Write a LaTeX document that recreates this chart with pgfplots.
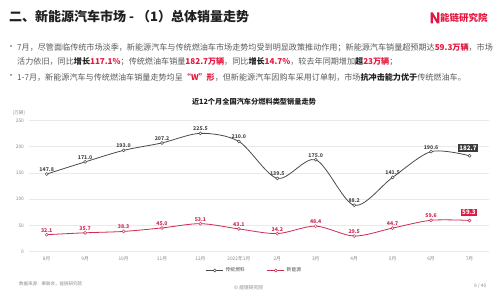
\documentclass[border=0pt]{standalone}
\usepackage{pgfplots}
\usepackage{pgfplotstable}
\pgfplotsset{compat=1.18}
\usepackage{fontspec}
\setmainfont{Noto Sans CJK SC}
\definecolor{titlec}{HTML}{1F1F1F}
\definecolor{bodyc}{HTML}{5A5A5A}
\definecolor{hl}{HTML}{E5173F}
\definecolor{darkline}{HTML}{4A4A4A}
\definecolor{redline}{HTML}{CF2A52}
\definecolor{darkbox}{HTML}{3D3D3D}
\definecolor{redbox}{HTML}{E01842}
\definecolor{gridc}{HTML}{EAEAEA}
\definecolor{tickc}{HTML}{8A8A8A}
\newcommand{\R}[1]{{\bfseries\color{hl}#1}}
\newcommand{\B}[1]{{\bfseries\color{titlec}#1}}
\pgfplotstableread{
x trad nev
0 147.8 32.1
1 171.0 35.7
2 193.0 38.3
3 207.2 45.0
4 225.5 53.1
5 210.0 43.1
6 139.5 34.2
7 175.0 48.4
8 88.2 29.5
9 141.5 44.7
10 190.6 59.6
11 182.7 59.3
}\data
\begin{document}
\begin{tikzpicture}
\path[use as bounding box, fill=white] (0pt,0pt) rectangle (500pt,299pt);
% title
\node[anchor=west, inner sep=0, text=titlec, font=\fontsize{13}{15}\selectfont\bfseries] at (9pt,282pt) {二、新能源汽车市场 - （1）总体销量走势};
% logo
\fill[hl] (430.5pt,275.5pt) -- (432.8pt,275.5pt) -- (432.8pt,282.5pt) -- (437pt,275.5pt) -- (439.3pt,275.5pt) -- (439.3pt,286.5pt) -- (437pt,286.5pt) -- (437pt,279.5pt) -- (432.8pt,286.5pt) -- (430.5pt,286.5pt) -- cycle;
\node[anchor=west, inner sep=0, text=hl, font=\fontsize{9.5}{11}\selectfont\bfseries] at (440pt,281pt) {能链研究院};
% bullets
\begin{scope}[every node/.style={anchor=west, inner sep=0, text=bodyc, font=\fontsize{8.1}{10}\selectfont}]
\node at (7pt,251pt) {•};
\node at (17pt,251pt) {7月，尽管面临传统市场淡季，新能源汽车与传统燃油车市场走势均受到明显政策推动作用；新能源汽车销量超预期达\R{59.3万辆}，市场};
\node at (17pt,237pt) {活力依旧，同比\B{增长}\R{117.1\%}；传统燃油车销量\R{182.7万辆}，同比\B{增长}\R{14.7\%}，较去年同期增加\B{超}\R{23万辆}；};
\node at (7pt,222pt) {•};
\node at (17pt,222pt) {1-7月，新能源汽车与传统燃油车销量走势均呈\R{“W”形}，但新能源汽车因购车采用订单制，市场\B{抗冲击能力优于}传统燃油车。};
\end{scope}
% chart title
\node[inner sep=0, text=titlec, font=\fontsize{7.2}{9}\selectfont\bfseries] at (254pt,197pt) {近12个月全国汽车分燃料类型销量走势};
\node[inner sep=0, text=tickc, font=\fontsize{4.6}{5}\selectfont] at (19pt,186pt) {(万辆)};
% footer
\node[anchor=west, inner sep=0, text=tickc, font=\fontsize{4.5}{5}\selectfont] at (19pt,15.5pt) {数据来源：乘联会，能链研究院};
\node[anchor=west, inner sep=0, text=tickc, font=\fontsize{4.8}{5}\selectfont] at (234pt,11pt) {© 能链研究院};
\node[anchor=west, inner sep=0, text=tickc, font=\fontsize{4.8}{5}\selectfont] at (474pt,13pt) {9 / 40};
\begin{axis}[
  at={(29.4pt,47.5pt)}, anchor=south west, scale only axis,
  width=459.3pt, height=131pt,
  xmin=-0.45, xmax=11.5, ymin=0, ymax=250,
  xtick={0,...,11},
  xticklabels={8月,9月,10月,11月,12月,2022年1月,2月,3月,4月,5月,6月,7月},
  ytick={0,50,100,150,200,250},
  ymajorgrids, grid style={gridc, line width=0.5pt},
  axis line style={draw=none},
  major tick length=0pt,
  tick label style={text=tickc, font=\fontsize{4.8}{5}\selectfont},
  /pgf/number format/assume math mode=true,
  x tick label style={yshift=-1.5pt},
  y tick label style={xshift=-2pt},
  clip=false,
  legend style={at={(0.49,-0.145)}, anchor=center, draw=none, fill=none,
    font=\fontsize{4.8}{5}\selectfont, text=darkline,
    /tikz/every even column/.append style={column sep=20pt}},
  legend columns=2,
]
\addplot[smooth, color=darkline, line width=0.8pt, mark=*, mark size=1.5pt, mark options={fill=white, line width=0.5pt}] table[x=x,y=trad]{\data};
\addlegendentry{传统燃料}
\addplot[smooth, color=redline, line width=0.8pt, mark=*, mark size=1.5pt, mark options={fill=white, line width=0.5pt}] table[x=x,y=nev]{\data};
\addlegendentry{新能源}
% labels
\addplot[forget plot, draw=none, mark=none, skip coords between index={11}{12},
  nodes near coords={\pgfmathprintnumber[fixed,fixed zerofill,precision=1]{\pgfplotspointmeta}},
  every node near coord/.append style={anchor=south, yshift=1.8pt, inner sep=0.5pt, text=darkline, font=\fontsize{5.2}{6}\selectfont\bfseries}] table[x=x,y=trad]{\data};
\addplot[forget plot, draw=none, mark=none, skip coords between index={11}{12},
  nodes near coords={\pgfmathprintnumber[fixed,fixed zerofill,precision=1]{\pgfplotspointmeta}},
  every node near coord/.append style={anchor=south, yshift=1.8pt, inner sep=0.5pt, text=redline, font=\fontsize{5.2}{6}\selectfont\bfseries}] table[x=x,y=nev]{\data};
\addplot[forget plot, draw=none, mark=none, skip coords between index={0}{11},
  nodes near coords={\pgfmathprintnumber[fixed,fixed zerofill,precision=1]{\pgfplotspointmeta}},
  every node near coord/.append style={anchor=south, xshift=-1.5pt, yshift=4pt, inner sep=1.4pt, fill=darkbox, text=white, font=\fontsize{6.2}{7}\selectfont\bfseries}] table[x=x,y=trad]{\data};
\addplot[forget plot, draw=none, mark=none, skip coords between index={0}{11},
  nodes near coords={\pgfmathprintnumber[fixed,fixed zerofill,precision=1]{\pgfplotspointmeta}},
  every node near coord/.append style={anchor=south, xshift=-0.5pt, yshift=4pt, inner sep=1.4pt, fill=redbox, text=white, font=\fontsize{6.2}{7}\selectfont\bfseries}] table[x=x,y=nev]{\data};
\end{axis}
\end{tikzpicture}
\end{document}
